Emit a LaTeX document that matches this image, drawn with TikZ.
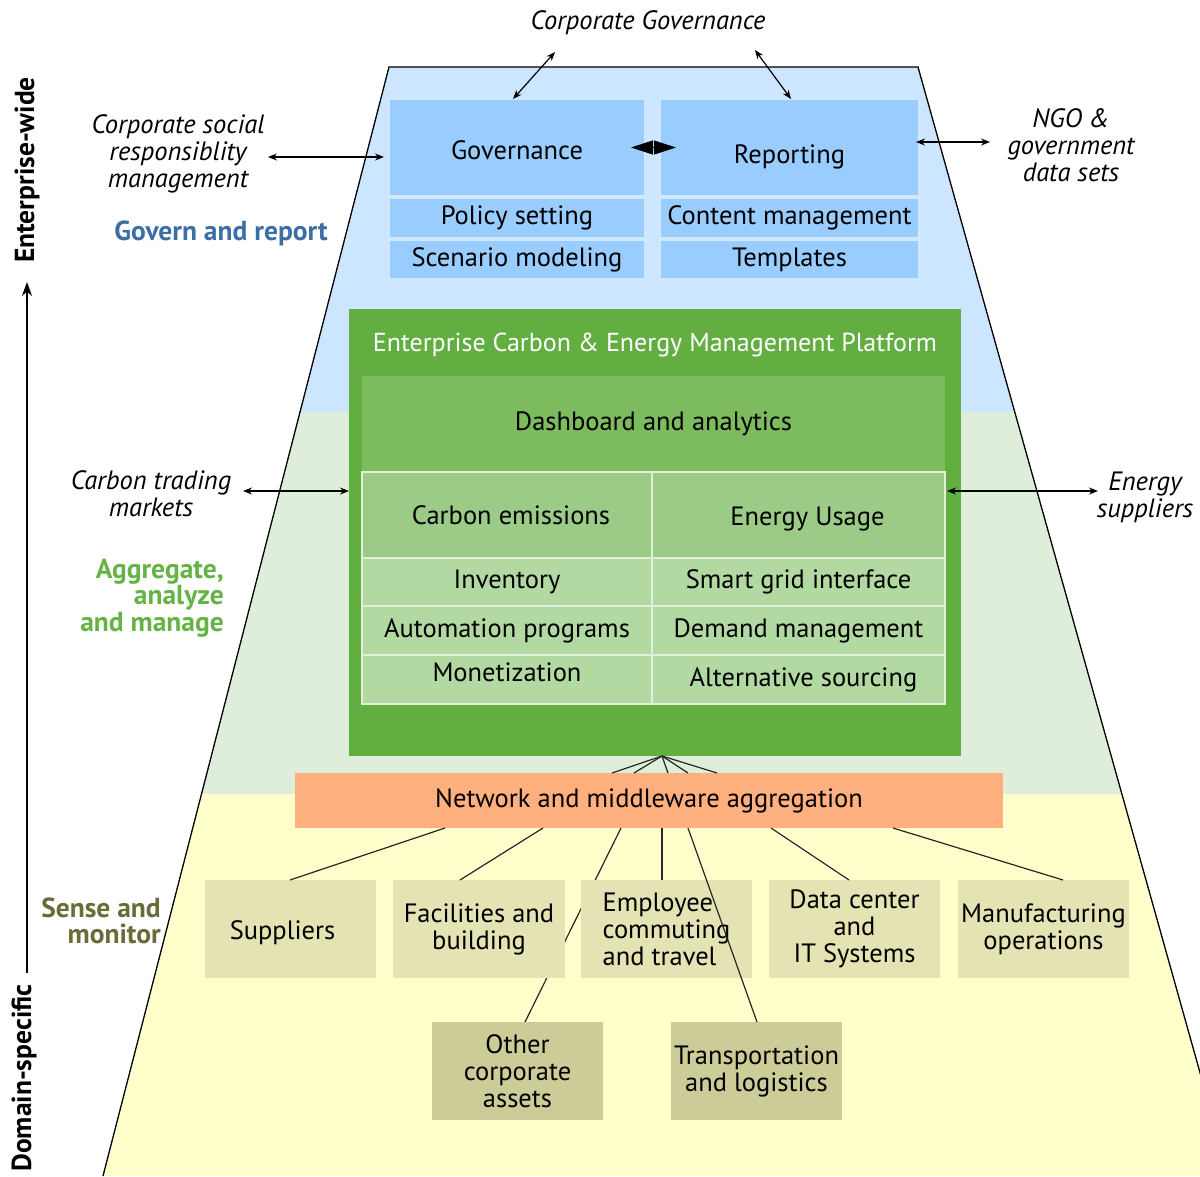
\documentclass[tikz,border=0pt]{standalone}
\usepackage{fontspec}
\setmainfont{PT Sans}
\usetikzlibrary{arrows.meta,calc}
\pgfdeclarelayer{bands}
\pgfdeclarelayer{behind}
\pgfsetlayers{bands,behind,main}
\definecolor{bandblue}{HTML}{CCE6FF}
\definecolor{boxblue}{HTML}{99CCFF}
\definecolor{bandgreen}{HTML}{DFEEDA}
\definecolor{platgreen}{HTML}{62AE41}
\definecolor{dashgreen}{HTML}{7DBB5F}
\definecolor{cellgreen}{HTML}{9BCB86}
\definecolor{rowgreen}{HTML}{B3D9A3}
\definecolor{netorange}{HTML}{FFB07E}
\definecolor{bandyellow}{HTML}{FFFFCC}
\definecolor{tanbox}{HTML}{E3E3B3}
\definecolor{olivebox}{HTML}{CCCC99}
\definecolor{govtext}{HTML}{3A6EA5}
\definecolor{aggtext}{HTML}{66B345}
\definecolor{sensetext}{HTML}{6B6B38}
\newcommand{\bodyfs}{\fontsize{26.5}{27}\selectfont}
\tikzset{
  base/.style={rectangle, inner sep=0pt, outer sep=0pt, anchor=north west, font=\bodyfs, align=center},
  bluebx/.style={base, fill=boxblue, draw=white!55!boxblue, line width=1.5pt},
  cellbx/.style={base, draw=white!70!cellgreen, line width=1.5pt},
  tanbx/.style={base, fill=tanbox},
  olivebx/.style={base, fill=olivebox},
  intext/.style={font=\bodyfs, inner sep=0pt},
  lbl/.style={inner sep=0pt, font=\fontsize{26.5}{27}\selectfont\itshape, align=center},
  side/.style={inner sep=0pt, font=\fontsize{27.5}{26.5}\selectfont\bfseries, align=right},
  dbl/.style={{Stealth[length=9pt,width=7pt]}-{Stealth[length=9pt,width=7pt]}, line width=1.2pt},
  conn/.style={line width=1.2pt, draw=black!85},
}
\begin{document}
\begin{tikzpicture}[x=1pt,y=-1pt]
\useasboundingbox (0,0) rectangle (1200,1176);
\clip (0,0) rectangle (1200,1176);
% bands inside the trapezoid
\begin{pgfonlayer}{bands}
\fill[white] (0,0) rectangle (1200,1176);
\begin{scope}
\clip (389,67) -- (918,67) -- (1229,1176) -- (103,1176) -- cycle;
\fill[bandblue] (0,67) rectangle (1300,412);
\fill[bandgreen] (0,412) rectangle (1300,794);
\fill[bandyellow] (0,794) rectangle (1300,1200);
\end{scope}
\draw[line width=1.3pt] (103,1176) -- (389,67) -- (918,67) -- (1229,1176);
\end{pgfonlayer}

% Govern and report
\node[bluebx, minimum width=256, minimum height=97, label={[intext, yshift=-3pt]center:Governance}] (gov) at (389,99) {};
\node[bluebx, minimum width=256, minimum height=40] (pol) at (389,198) {Policy setting};
\node[bluebx, minimum width=256, minimum height=39] (scn) at (389,240) {Scenario modeling};
\node[bluebx, minimum width=259, minimum height=97, label={[intext, yshift=-9pt]center:Reporting}] (rep) at (660,99) {};
\node[bluebx, minimum width=259, minimum height=40] (cnt) at (660,198) {Content management};
\node[bluebx, minimum width=259, minimum height=39] (tpl) at (660,240) {Templates};

\node[lbl] (cg) at (648,23) {Corporate Governance};
\coordinate (cgL) at (555,52);
\coordinate (cgR) at (755,50);
\draw[dbl] (cgL) -- ([xshift=-4]gov.north);
\draw[dbl] (cgR) -- ([xshift=131]rep.north west);
\draw[{Triangle[length=22pt,width=14pt]}-{Triangle[length=22pt,width=14pt]}, line width=1pt] ([xshift=-14]gov.east) -- ([xshift=16]rep.west);

\node[lbl] (csr) at (178,154) {Corporate social\\responsiblity\\management};
\coordinate (csrE) at (268,157);
\draw[dbl] (csrE) -- ([xshift=-5]csrE -| gov.west);
\node[lbl] (ngo) at (1071,145) {NGO \&\\government\\data sets};
\coordinate (ngoW) at (990,142);
\draw[dbl] ([xshift=-3]ngoW -| rep.east) -- (ngoW);
\node[side, text=govtext, align=center] (gar) at (221,233) {Govern and report};

% Platform
\node[base, fill=platgreen, minimum width=612, minimum height=447] (plat) at (349,309) {};
\node[inner sep=0pt, font=\fontsize{26}{27}\selectfont, text=white] (ptitle) at (655,345) {Enterprise Carbon \& Energy Management Platform};
\node[base, fill=dashgreen, minimum width=583, minimum height=96] (dash) at (362,376) {Dashboard and analytics};
\node[cellbx, fill=cellgreen, minimum width=290, minimum height=86, label={[intext, xshift=4pt]center:Carbon emissions}] (c1) at (362,472) {};
\node[cellbx, fill=cellgreen, minimum width=293, minimum height=86, label={[intext, xshift=9pt, yshift=-4pt]center:Energy Usage}] (e1) at (652,472) {};
\node[cellbx, fill=rowgreen, minimum width=290, minimum height=48] (c2) at (362,558) {Inventory};
\node[cellbx, fill=rowgreen, minimum width=293, minimum height=48] (e2) at (652,558) {Smart grid interface};
\node[cellbx, fill=rowgreen, minimum width=290, minimum height=49] (c3) at (362,606) {Automation programs};
\node[cellbx, fill=rowgreen, minimum width=293, minimum height=49] (e3) at (652,606) {Demand management};
\node[cellbx, fill=rowgreen, minimum width=290, minimum height=49, label={[intext, yshift=7pt]center:Monetization}] (c4) at (362,655) {};
\node[cellbx, fill=rowgreen, minimum width=293, minimum height=49, label={[intext, xshift=5pt]center:Alternative sourcing}] (e4) at (652,655) {};

\node[lbl] (ctm) at (151,494) {Carbon trading\\markets};
\coordinate (ctmE) at (243,491);
\draw[dbl] (ctmE) -- (ctmE -| plat.west);
\node[lbl] (esp) at (1145,497) {Energy\\suppliers};
\coordinate (espW) at (1098,491);
\draw[dbl] ([xshift=2]espW -| e1.east) -- (espW);
\node[side, text=aggtext, anchor=east] (aam) at (224,598) {Aggregate,\\analyze\\and manage};

% Network
\node[base, fill=netorange, minimum width=708, minimum height=55] (net) at (295,773) {Network and middleware aggregation};
\foreach \dx in {317,339,373,393,422}
  \draw[conn] ([xshift=313]plat.south west) -- ([xshift=\dx]net.north west);

% Sense and monitor
\node[side, text=sensetext, anchor=east] (sam) at (161,921) {Sense and\\monitor};
\node[tanbx, minimum width=171, minimum height=98, label={[intext, xshift=-8pt, yshift=-4pt]center:Suppliers}] (sup) at (205,880) {};
\node[tanbx, minimum width=172, minimum height=98] (fac) at (393,880) {Facilities and\\building};
\node[tanbx, minimum width=171, minimum height=98, align=left] (emp) at (581,880) {Employee\\commuting\\and travel};
\node[tanbx, minimum width=171, minimum height=98] (dc) at (769,880) {Data center\\and\\IT Systems};
\node[tanbx, minimum width=171, minimum height=98] (man) at (958,880) {Manufacturing\\operations};
\node[olivebx, minimum width=171, minimum height=98] (oca) at (432,1022) {Other\\corporate\\assets};
\node[olivebx, minimum width=171, minimum height=98] (tra) at (671,1022) {Transportation\\and logistics};

\begin{pgfonlayer}{behind}
\draw[conn] ([xshift=326]net.south west) -- ([xshift=93]oca.north west);
\end{pgfonlayer}
\draw[conn] ([xshift=150]net.south west) -- ([xshift=85]sup.north west);
\draw[conn] ([xshift=248]net.south west) -- ([xshift=67]fac.north west);
\draw[conn] ([xshift=367]net.south west) -- ([xshift=81]emp.north west);
\draw[conn] ([xshift=393]net.south west) -- ([xshift=86]tra.north west);
\draw[conn] ([xshift=476]net.south west) -- ([xshift=80]dc.north west);
\draw[conn] ([xshift=598]net.south west) -- ([xshift=105]man.north west);

% left axis
\coordinate (axb) at (27,973);
\coordinate (axt) at (27,282);
\draw[-{Stealth[length=14pt,width=10pt]}, line width=1.6pt] (axb) -- (axt);
\node[rotate=90, inner sep=0pt, font=\fontsize{27.5}{26}\selectfont\bfseries] (ew) at (27,170) {Enterprise-wide};
\node[rotate=90, inner sep=0pt, font=\fontsize{27.5}{26}\selectfont\bfseries] (ds) at (24,1078) {Domain-specific};
\end{tikzpicture}
\end{document}
